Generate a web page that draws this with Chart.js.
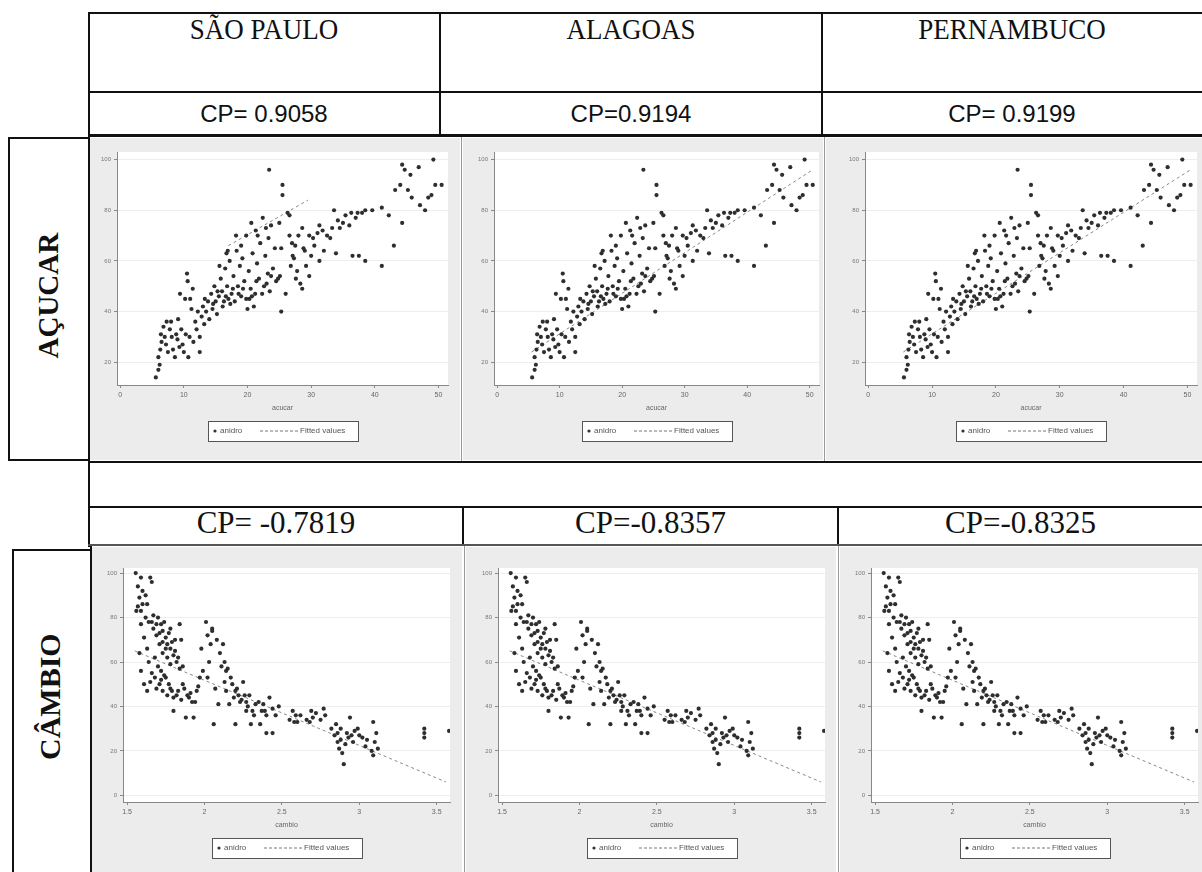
<!DOCTYPE html>
<html>
<head>
<meta charset="utf-8">
<script src="https://cdn.jsdelivr.net/npm/chart.js@4.4.1/dist/chart.umd.min.js"></script>
<style>
  body { margin: 0; background: #fff; width: 1202px; height: 872px; position: relative; overflow: hidden; }
  .ln { position: absolute; background: #111; }
  .txt { position: absolute; text-align: center; color: #111; white-space: nowrap; }
  .serif { font-family: "Liberation Serif", "Times New Roman", serif; }
  .sans { font-family: "Liberation Sans", Arial, sans-serif; }
  .tall { transform: scaleY(1.12); transform-origin: 50% 0; }
  .rot { position: absolute; transform: rotate(-90deg); font-family: "Liberation Serif", serif; font-weight: bold; white-space: nowrap; color: #111; }
  .cell { position: absolute; }
</style>
</head>
<body>

<!-- cabecalho -->
<div class="ln" style="left:88px;top:12px;width:1114px;height:2px"></div>
<div class="ln" style="left:88px;top:91px;width:1114px;height:2px"></div>
<div class="ln" style="left:88px;top:134px;width:1114px;height:3px"></div>
<div class="ln" style="left:88px;top:12px;width:2px;height:125px"></div>
<div class="ln" style="left:439px;top:12px;width:2px;height:125px"></div>
<div class="ln" style="left:821px;top:12px;width:2px;height:125px"></div>

<div class="txt serif tall" style="left:88px;width:352px;top:12px;font-size:27px">SÃO PAULO</div>
<div class="txt serif tall" style="left:440px;width:382px;top:12px;font-size:27px">ALAGOAS</div>
<div class="txt serif tall" style="left:822px;width:380px;top:12px;font-size:27px">PERNAMBUCO</div>

<div class="txt sans" style="left:88px;width:352px;top:100px;font-size:24px">CP= 0.9058</div>
<div class="txt sans" style="left:440px;width:382px;top:100px;font-size:24px">CP=0.9194</div>
<div class="txt sans" style="left:822px;width:380px;top:100px;font-size:24px">CP= 0.9199</div>

<!-- linha ACUCAR -->
<div class="ln" style="left:8px;top:137px;width:82px;height:2px"></div>
<div class="ln" style="left:8px;top:137px;width:2px;height:324px"></div>
<div class="ln" style="left:8px;top:459px;width:82px;height:2px"></div>
<div class="ln" style="left:88px;top:137px;width:2px;height:324px"></div>
<div class="rot" style="left:-2px;top:292px;width:100px;font-size:29px;text-align:center">AÇUCAR</div>

<div class="cell" style="left:90px;top:138px;width:370px;height:322px"><canvas id="c1"></canvas></div>
<div class="cell" style="left:463px;top:138px;width:360px;height:322px"><canvas id="c2"></canvas></div>
<div class="cell" style="left:826px;top:138px;width:376px;height:322px"><canvas id="c3"></canvas></div>
<div class="ln" style="left:461px;top:137px;width:1px;height:324px;background:#999"></div>
<div class="ln" style="left:824px;top:137px;width:1px;height:324px;background:#999"></div>

<!-- linha vazia + CP cambio -->
<div class="ln" style="left:88px;top:461px;width:1114px;height:2px"></div>
<div class="ln" style="left:88px;top:506px;width:1114px;height:2px"></div>
<div class="ln" style="left:88px;top:461px;width:2px;height:86px"></div>
<div class="ln" style="left:462px;top:506px;width:2px;height:40px"></div>
<div class="ln" style="left:837px;top:506px;width:2px;height:40px"></div>
<div class="ln" style="left:88px;top:544px;width:1114px;height:2px;background:#555"></div>

<div class="txt serif" style="left:90px;width:372px;top:505px;font-size:31px">CP= -0.7819</div>
<div class="txt serif" style="left:464px;width:373px;top:505px;font-size:31px">CP=-0.8357</div>
<div class="txt serif" style="left:839px;width:363px;top:505px;font-size:31px">CP=-0.8325</div>

<!-- linha CAMBIO -->
<div class="ln" style="left:12px;top:549px;width:80px;height:2px"></div>
<div class="ln" style="left:12px;top:549px;width:2px;height:323px"></div>
<div class="ln" style="left:90px;top:546px;width:2px;height:326px"></div>
<div class="rot" style="left:0px;top:693px;width:100px;font-size:30px;text-align:center">CÂMBIO</div>

<div class="cell" style="left:92px;top:547px;width:370px;height:325px"><canvas id="c4"></canvas></div>
<div class="cell" style="left:466px;top:547px;width:370px;height:325px"><canvas id="c5"></canvas></div>
<div class="cell" style="left:840px;top:547px;width:362px;height:325px"><canvas id="c6"></canvas></div>
<div class="ln" style="left:464px;top:546px;width:1px;height:326px;background:#999"></div>
<div class="ln" style="left:838px;top:546px;width:1px;height:326px;background:#999"></div>

<script>
// acucar x anidro
const acucarAnidro = [
  [5.6,14],[6.0,17],[6.2,19],[6.0,22],[6.3,25],[6.5,28],[6.4,31],[6.8,34],[7.0,30],[7.2,27],
  [7.5,24],[7.8,33],[8.0,36],[8.1,30],[8.3,25],[8.6,22],[9.0,29],[9.1,37],[9.4,47],[9.6,33],
  [9.8,27],[10.0,24],[10.3,31],[10.5,55],[10.6,52],[10.7,22],[10.9,30],[11.0,45],[11.2,41],[11.5,28],
  [11.8,36],[12.0,33],[12.5,30],[12.5,24],[12.8,38],[13.0,42],[13.2,35],[13.5,40],[13.8,44],[14.0,37],
  [14.3,47],[14.5,41],[14.8,50],[15.0,44],[15.2,39],[15.5,46],[15.8,53],[16.0,48],[16.3,44],[16.5,57],
  [16.7,63],[16.8,50],[17.0,45],[17.2,60],[17.5,47],[17.7,49],[17.8,54],[18.0,44],[18.2,70],[18.3,64],
  [18.5,50],[18.8,58],[19.0,46],[19.2,61],[19.5,52],[19.8,45],[19.8,70],[20.0,41],[20.2,56],[20.3,45],
  [20.5,49],[20.6,75],[20.8,63],[21.0,42],[21.3,72],[21.4,52],[21.5,59],[21.8,53],[22.0,67],[22.3,47],
  [22.4,77],[22.8,62],[23.0,51],[23.3,69],[23.4,96],[23.5,48],[23.7,54],[23.7,74],[24.0,57],[24.3,65],
  [24.8,53],[25.0,75],[25.1,54],[25.3,40],[25.3,65],[25.5,86],[25.5,90],[26.0,47],[26.3,79],[26.6,70],
  [26.6,78],[27.0,67],[27.1,62],[27.3,61],[27.6,53],[27.8,56],[28.0,70],[28.3,51],[28.6,49],[28.6,73],
  [28.8,65],[29.2,58],[29.7,54],[29.7,70],[30.0,62],[30.5,66],[31.0,71],[31.3,60],[31.3,74],[32.0,64],
  [32.5,70],[33.0,69],[33.6,80],[33.9,63],[34.5,73],[35.0,75],[35.4,78],[36.0,74],[36.5,62],[37.0,77],
  [37.5,62],[38.0,79],[38.5,80],[38.5,60],[41.1,58],[41.1,81],[42.2,78],[43.0,66],[43.2,88],[44.0,90],
  [44.3,75],[44.3,98],[45.6,94],[45.8,85],[46.9,97],[47.1,82],[48.4,85],[49.2,100],[49.5,90],[50.5,90],
  [12.2,40],[13.3,45],[14.6,43],[15.3,48],[16.1,42],[16.6,46],[17.3,43],[18.6,47],[19.3,49],[20.7,46],
  [21.2,47],[22.6,50],[23.2,55],[24.5,52],[26.8,58],[27.5,66],[29.0,64],[30.3,69],[31.8,72],[33.3,73],
  [34.2,76],[36.3,79],[37.3,79],[39.6,80],[8.8,31],[9.3,26],[7.3,36],[11.4,49],[10.2,45],[15.6,58],
  [16.9,64],[19.0,66],[21.6,70],[22.9,73],[45.2,88],[44.7,96],[47.9,80],[48.9,86]
];

// cambio x anidro
const cambioAnidro = [
  [1.556,100],[1.59,98],[1.65,98],[1.66,96],[1.57,94],[1.60,92],[1.62,90],[1.58,89],[1.63,86],[1.57,85],
  [1.56,83],[1.59,83],[1.67,81],[1.70,80],[1.66,78],[1.74,78],[1.59,77],[1.69,77],[1.72,77],[1.84,77],
  [1.78,75],[1.73,74],[1.71,73],[1.77,73],[1.75,71],[1.61,71],[1.81,70],[1.73,69],[1.79,69],[1.85,70],
  [1.76,68],[1.63,66],[1.75,66],[1.78,66],[1.58,64],[1.81,65],[1.80,63],[1.83,62],[1.64,60],[1.82,60],
  [1.68,62],[1.70,58],[1.86,58],[1.84,57],[1.59,56],[1.72,56],[1.74,54],[1.72,52],[1.75,53],[1.65,51],
  [1.77,50],[1.61,50],[1.69,48],[1.78,48],[1.87,48],[1.79,47],[1.83,47],[1.80,44],[1.82,45],[1.89,45],
  [1.90,44],[1.85,43],[1.92,42],[1.94,42],[1.95,47],[1.96,49],[1.97,53],[1.80,38],[1.88,35],[1.93,35],
  [1.98,66],[2.01,78],[2.02,72],[2.05,74],[2.05,75],[2.08,70],[2.03,60],[2.02,53],[2.10,64],[2.06,32],
  [2.07,48],[2.09,41],[2.12,68],[2.13,60],[2.14,56],[2.15,57],[2.14,47],[2.17,53],[2.16,41],[2.18,50],
  [2.20,47],[2.20,32],[2.21,48],[2.22,45],[2.24,43],[2.25,51],[2.26,45],[2.27,42],[2.28,40],[2.29,45],
  [2.30,32],[2.31,38],[2.33,41],[2.35,42],[2.36,32],[2.37,38],[2.38,41],[2.40,28],[2.40,36],[2.42,44],
  [2.44,28],[2.44,39],[2.46,36],[2.55,34],[2.57,38],[2.58,33],[2.60,33],[2.62,36],[2.68,33],[2.69,38],
  [2.70,35],[2.75,34],[2.77,39],[2.78,36],[2.82,30],[2.84,27],[2.85,32],[2.86,24],[2.87,21],[2.88,25],
  [2.89,19],[2.90,14],[2.91,23],[2.92,28],[2.94,35],[2.95,27],[2.96,24],[2.99,30],[3.00,27],[3.02,26],
  [3.04,22],[3.08,20],[3.09,33],[3.09,18],[3.10,24],[3.11,28],[3.42,30],[3.42,26],[3.42,28],[3.58,29],
  [1.60,86],[1.62,80],[1.64,78],[1.67,75],[1.69,72],[1.71,68],[1.73,64],[1.76,62],[1.78,59],[1.66,55],
  [1.68,53],[1.71,50],[1.73,47],[1.76,45],[1.63,47],[1.86,50],[1.91,46],[1.99,56],[2.04,68],[2.11,58],
  [2.13,51],[2.19,44],[2.23,42],[2.27,38],[2.32,36],[2.39,38],[2.48,40],[2.59,36],[2.66,34],[2.72,37],
  [2.86,28],[2.88,30],[2.93,26],[2.97,29],[3.05,25],[3.12,21]
];

// retas ajustadas (Fitted values), extremos
const fitAcucarSP = [[17,66],[29.5,84]];
const fitAcucar = [[5.5,24],[50.5,96]];
const fitCambio = [[1.55,65],[3.56,6]];

const xTicksAcucar = [0, 10, 20, 30, 40, 50];
const xTicksCambio = [1.5, 2, 2.5, 3, 3.5];
const yTicksAcucar = [20, 40, 60, 80, 100];
const yTicksCambio = [0, 20, 40, 60, 80, 100];

const toXY = (arr) => arr.map(([x, y]) => ({ x, y }));

// fundo cinza do Stata + area branca
const stataBg = {
  id: "stataBg",
  beforeDraw(chart) {
    const { ctx, chartArea: a, width, height } = chart;
    ctx.save();
    ctx.fillStyle = "#ececec";
    ctx.fillRect(0, 0, width, height);
    ctx.fillStyle = "#ffffff";
    ctx.fillRect(a.left, a.top, a.right - a.left, a.bottom - a.top);
    ctx.restore();
  },
};

// legenda com caixa, como no Stata
const stataLegend = {
  id: "stataLegend",
  afterDraw(chart) {
    const { ctx, chartArea: a } = chart;
    const w = 150, h = 20;
    const x0 = Math.round((a.left + a.right) / 2 - w / 2);
    const y0 = Math.round(a.bottom + 36);
    const my = y0 + h / 2;
    ctx.save();
    ctx.fillStyle = "#ffffff";
    ctx.fillRect(x0, y0, w, h);
    ctx.strokeStyle = "#555";
    ctx.lineWidth = 1;
    ctx.strokeRect(x0 + 0.5, y0 + 0.5, w, h);
    ctx.fillStyle = "#333";
    ctx.beginPath();
    ctx.arc(x0 + 7, my, 1.6, 0, Math.PI * 2);
    ctx.fill();
    ctx.font = '8px "Liberation Sans", sans-serif';
    ctx.fillStyle = "#555";
    ctx.textBaseline = "middle";
    ctx.fillText("anidro", x0 + 12, my);
    ctx.strokeStyle = "#777";
    ctx.setLineDash([3, 2]);
    ctx.beginPath();
    ctx.moveTo(x0 + 52, my);
    ctx.lineTo(x0 + 90, my);
    ctx.stroke();
    ctx.setLineDash([]);
    ctx.fillText("Fitted values", x0 + 92, my);
    ctx.restore();
  },
};

function makeChart(id, pts, fit, cfg) {
  return new Chart(document.getElementById(id), {
    type: "scatter",
    data: {
      datasets: [
        {
          label: "anidro",
          data: toXY(pts),
          backgroundColor: "#2e2e2e",
          borderWidth: 0,
          pointRadius: 2.1,
        },
        {
          type: "line",
          label: "Fitted values",
          data: toXY(fit),
          borderColor: "#888",
          borderWidth: 1,
          borderDash: [3, 3],
          pointRadius: 0,
          fill: false,
        },
      ],
    },
    options: {
      responsive: true,
      maintainAspectRatio: false,
      animation: false,
      layout: { padding: { top: cfg.pt, right: cfg.pr, bottom: cfg.pb, left: 0 } },
      plugins: { legend: { display: false }, tooltip: { enabled: false } },
      scales: {
        x: {
          type: "linear",
          min: cfg.xmin,
          max: cfg.xmax,
          afterBuildTicks: (s) => { s.ticks = cfg.xticks.map((v) => ({ value: v })); },
          afterFit: (s) => { s.height = 27; },
          ticks: { color: "#666", font: { size: 7 }, padding: 3, maxRotation: 0, autoSkip: false, callback: (v) => String(v) },
          title: { display: true, text: cfg.xtitle, color: "#666", font: { size: 7 }, padding: 0 },
          grid: { drawOnChartArea: false, color: "#888", tickLength: 3 },
          border: { color: "#888" },
        },
        y: {
          type: "linear",
          min: cfg.ymin,
          max: cfg.ymax,
          afterBuildTicks: (s) => { s.ticks = cfg.yticks.map((v) => ({ value: v })); },
          afterFit: (s) => { s.width = cfg.yw; },
          ticks: { color: "#777", font: { size: 6 }, padding: 3, autoSkip: false },
          grid: { color: "#eeeeee", tickColor: "#888", tickLength: 3 },
          border: { color: "#888" },
        },
      },
    },
    plugins: [stataBg, stataLegend],
  });
}

const topCfg = { xmin: -0.5, xmax: 51.5, ymin: 11, ymax: 103, xticks: xTicksAcucar, yticks: yTicksAcucar, xtitle: "acucar", pt: 14, pb: 48 };
const botCfg = { xmin: 1.474, xmax: 3.586, ymin: -3, ymax: 102.3, xticks: xTicksCambio, yticks: yTicksCambio, xtitle: "cambio", pt: 21, pb: 43 };

makeChart("c1", acucarAnidro, fitAcucarSP, { ...topCfg, yw: 27, pr: 12 });
makeChart("c2", acucarAnidro, fitAcucar, { ...topCfg, yw: 31, pr: 3 });
makeChart("c3", acucarAnidro, fitAcucar, { ...topCfg, yw: 39, pr: 5 });

makeChart("c4", cambioAnidro, fitCambio, { ...botCfg, yw: 31, pr: 12 });
makeChart("c5", cambioAnidro, fitCambio, { ...botCfg, yw: 32, pr: 11 });
makeChart("c6", cambioAnidro, fitCambio, { ...botCfg, yw: 31, pr: 4 });
</script>
</body>
</html>
